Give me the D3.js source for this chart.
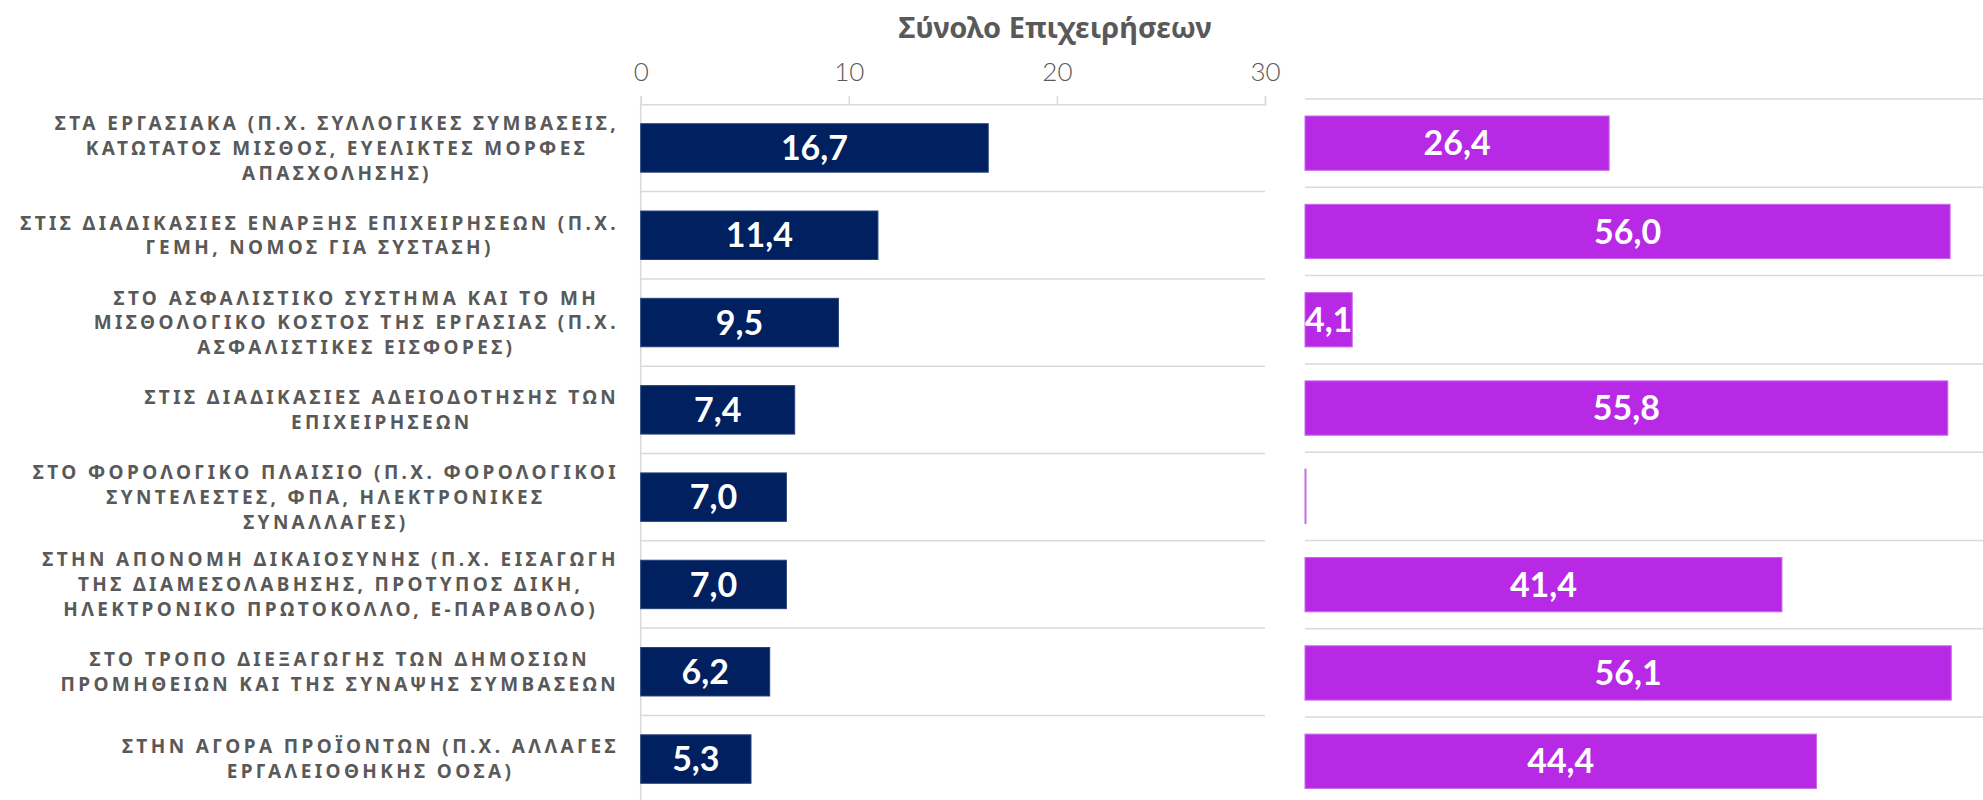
<!DOCTYPE html>
<html><head><meta charset="utf-8">
<script src="https://cdn.jsdelivr.net/npm/d3@7"></script>
<style>
html,body{margin:0;padding:0;background:#fff;}
svg{display:block;}
</style></head><body>
<svg id="chart" width="1983" height="800"></svg>
<script>
// ---------- DATA ----------
const categoryLines = [
  ["ΣΤΑ ΕΡΓΑΣΙΑΚΑ (Π.Χ. ΣΥΛΛΟΓΙΚΕΣ ΣΥΜΒΑΣΕΙΣ,", "ΚΑΤΩΤΑΤΟΣ ΜΙΣΘΟΣ, ΕΥΕΛΙΚΤΕΣ ΜΟΡΦΕΣ", "ΑΠΑΣΧΟΛΗΣΗΣ)"],
  ["ΣΤΙΣ ΔΙΑΔΙΚΑΣΙΕΣ ΕΝΑΡΞΗΣ ΕΠΙΧΕΙΡΗΣΕΩΝ (Π.Χ.", "ΓΕΜΗ, ΝΟΜΟΣ ΓΙΑ ΣΥΣΤΑΣΗ)"],
  ["ΣΤΟ ΑΣΦΑΛΙΣΤΙΚΟ ΣΥΣΤΗΜΑ ΚΑΙ ΤΟ ΜΗ", "ΜΙΣΘΟΛΟΓΙΚΟ ΚΟΣΤΟΣ ΤΗΣ ΕΡΓΑΣΙΑΣ (Π.Χ.", "ΑΣΦΑΛΙΣΤΙΚΕΣ ΕΙΣΦΟΡΕΣ)"],
  ["ΣΤΙΣ ΔΙΑΔΙΚΑΣΙΕΣ ΑΔΕΙΟΔΟΤΗΣΗΣ ΤΩΝ", "ΕΠΙΧΕΙΡΗΣΕΩΝ"],
  ["ΣΤΟ ΦΟΡΟΛΟΓΙΚΟ ΠΛΑΙΣΙΟ (Π.Χ. ΦΟΡΟΛΟΓΙΚΟΙ", "ΣΥΝΤΕΛΕΣΤΕΣ, ΦΠΑ, ΗΛΕΚΤΡΟΝΙΚΕΣ", "ΣΥΝΑΛΛΑΓΕΣ)"],
  ["ΣΤΗΝ ΑΠΟΝΟΜΗ ΔΙΚΑΙΟΣΥΝΗΣ (Π.Χ. ΕΙΣΑΓΩΓΗ", "ΤΗΣ ΔΙΑΜΕΣΟΛΑΒΗΣΗΣ, ΠΡΟΤΥΠΟΣ ΔΙΚΗ,", "ΗΛΕΚΤΡΟΝΙΚΟ ΠΡΩΤΟΚΟΛΛΟ, Ε-ΠΑΡΑΒΟΛΟ)"],
  ["ΣΤΟ ΤΡΟΠΟ ΔΙΕΞΑΓΩΓΗΣ ΤΩΝ ΔΗΜΟΣΙΩΝ", "ΠΡΟΜΗΘΕΙΩΝ ΚΑΙ ΤΗΣ ΣΥΝΑΨΗΣ ΣΥΜΒΑΣΕΩΝ"],
  ["ΣΤΗΝ ΑΓΟΡΑ ΠΡΟΪΟΝΤΩΝ (Π.Χ. ΑΛΛΑΓΕΣ", "ΕΡΓΑΛΕΙΟΘΗΚΗΣ ΟΟΣΑ)"]
];
const totalValues = [16.7, 11.4, 9.5, 7.4, 7.0, 7.0, 6.2, 5.3];
const rightValues = [26.4, 56.0, 4.1, 55.8, 0, 41.4, 56.1, 44.4];
const xTicks = [0, 10, 20, 30];
const chartTitle = "Σύνολο Επιχειρήσεων";

// ---------- LAYOUT ----------
const W = 1983, H = 800;
const svg = d3.select("#chart");
const fmt = d3.formatLocale({decimal: ",", thousands: ".", grouping: [3], currency: ["", "€"]}).format(".1f");
const idx = d3.range(categoryLines.length);
const textGray = "#595959", gridGray = "#d9d9d9";

const x1 = d3.scaleLinear().domain([0, 30]).range([640.7, 1265]);
const y1 = d3.scaleBand().domain(idx).range([104.3, 104.3 + idx.length * 87.3]).paddingInner(0.445).paddingOuter(0.2225);
const x2 = d3.scaleLinear().domain([0, 60]).range([1305, 1305 + 60 * 11.52]);
const y2 = d3.scaleBand().domain(idx).range([99, 99 + idx.length * 88.3]).paddingInner(0.385).paddingOuter(0.1925);

// title
svg.append("text").attr("x", 1055).attr("y", 38).attr("text-anchor", "middle")
  .attr("font-family", "'Noto Sans', 'Open Sans', sans-serif").attr("font-weight", 700)
  .attr("font-size", 29).attr("fill", textGray).text(chartTitle);

// left gridlines
svg.append("g").selectAll("line").data(d3.range(1, idx.length + 1)).join("line")
  .attr("x1", x1(0)).attr("x2", x1(30))
  .attr("y1", i => y1.range()[0] + i * y1.step()).attr("y2", i => y1.range()[0] + i * y1.step())
  .attr("stroke", gridGray).attr("stroke-width", 1.5);

// right gridlines
svg.append("g").selectAll("line").data(d3.range(0, idx.length + 1)).join("line")
  .attr("x1", x2(0)).attr("x2", W)
  .attr("y1", i => y2.range()[0] + i * y2.step()).attr("y2", i => y2.range()[0] + i * y2.step())
  .attr("stroke", gridGray).attr("stroke-width", 1.5);

// left vertical axis line
svg.append("line").attr("x1", x1(0)).attr("x2", x1(0)).attr("y1", y1.range()[0]).attr("y2", H)
  .attr("stroke", gridGray).attr("stroke-width", 1.5);

// top axis
const ax = svg.append("g").attr("transform", `translate(0,${y1.range()[0]})`)
  .call(d3.axisTop(x1).tickValues(xTicks).tickSize(8).tickSizeOuter(8).tickPadding(15).tickFormat(d3.format("d")));
ax.select(".domain").attr("stroke", gridGray).attr("stroke-width", 1.5);
ax.selectAll(".tick line").attr("stroke", gridGray).attr("stroke-width", 1.5);
ax.selectAll(".tick text").attr("fill", textGray).attr("font-family", "Lato, 'Open Sans', sans-serif")
  .attr("font-weight", 300).attr("font-size", 26);

// left bars
svg.append("g").selectAll("rect").data(idx).join("rect")
  .attr("x", x1(0)).attr("y", i => y1(i))
  .attr("width", i => Math.max(1, x1(totalValues[i]) - x1(0)))
  .attr("height", y1.bandwidth())
  .attr("fill", "#002060").attr("stroke", "#24407a").attr("stroke-width", 1);

svg.append("g").selectAll("text").data(idx).join("text")
  .attr("x", i => (x1(0) + x1(totalValues[i])) / 2)
  .attr("y", i => y1(i) + y1.bandwidth() / 2).attr("dy", "0.36em")
  .attr("text-anchor", "middle").attr("fill", "#fff")
  .attr("font-family", "Lato, 'Open Sans', sans-serif").attr("font-weight", 700).attr("font-size", 34)
  .text(i => fmt(totalValues[i]));

// right bars
svg.append("g").selectAll("rect").data(idx).join("rect")
  .attr("x", x2(0)).attr("y", i => y2(i))
  .attr("width", i => Math.max(1, x2(rightValues[i]) - x2(0)))
  .attr("height", y2.bandwidth())
  .attr("fill", "#b829e6").attr("stroke", "#c86ae8").attr("stroke-width", 1);

svg.append("g").selectAll("text").data(idx.filter(i => rightValues[i] > 0)).join("text")
  .attr("x", i => (x2(0) + x2(rightValues[i])) / 2)
  .attr("y", i => y2(i) + y2.bandwidth() / 2).attr("dy", "0.36em")
  .attr("text-anchor", "middle").attr("fill", "#fff")
  .attr("font-family", "Lato, 'Open Sans', sans-serif").attr("font-weight", 700).attr("font-size", 34)
  .text(i => fmt(rightValues[i]));

// category labels
const labelRight = 619, lineH = 24.8;
const lg = svg.append("g").attr("font-family", "'Noto Sans', 'Open Sans', sans-serif")
  .attr("font-weight", 700).attr("font-size", 19).attr("letter-spacing", "3.4px").attr("fill", textGray);
idx.forEach(i => {
  const lines = categoryLines[i];
  const cy = y1(i) + y1.bandwidth() / 2;
  const t = lg.append("text").attr("text-anchor", "middle");
  lines.forEach((ln, k) => {
    t.append("tspan").attr("y", cy + (k - (lines.length - 1) / 2) * lineH).attr("dy", "0.36em").text(ln);
  });
  let maxW = 0;
  t.selectAll("tspan").each(function() { maxW = Math.max(maxW, this.getComputedTextLength()); });
  t.selectAll("tspan").attr("x", labelRight - maxW / 2);
});
</script>
</body></html>
